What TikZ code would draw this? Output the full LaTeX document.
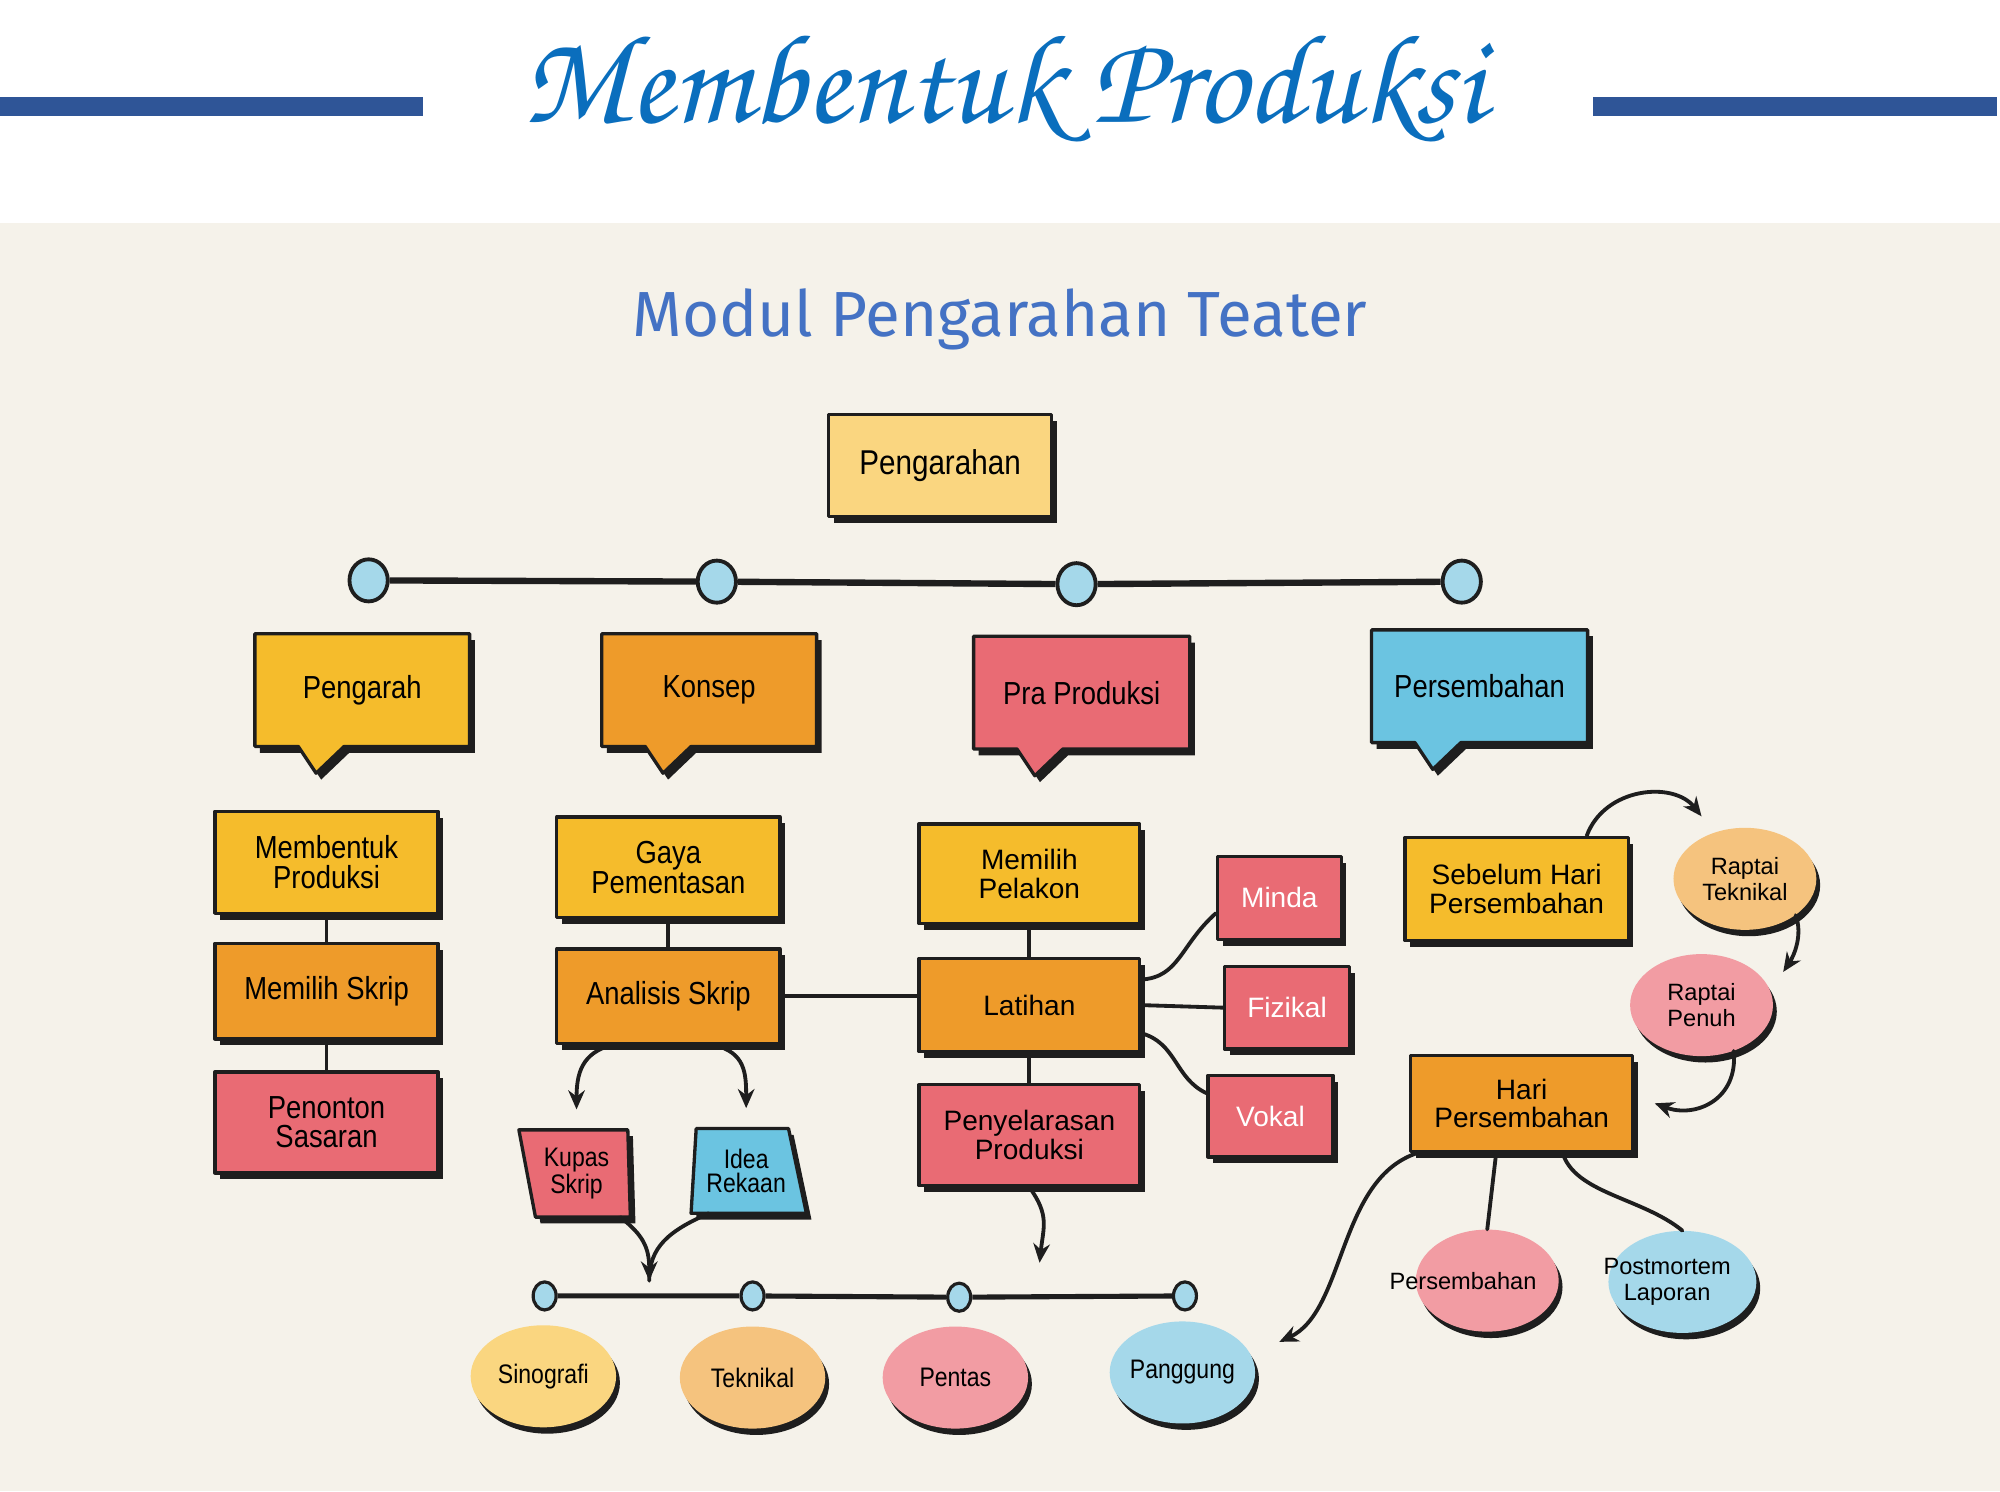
\documentclass[tikz,border=0pt]{standalone}
\usepackage{fontspec}
\setmainfont{Liberation Sans}
\newfontfamily\condfont[FakeStretch=0.86]{Liberation Sans}
\IfFontExistsTF{texgyrechorus-mediumitalic.otf}{\newfontfamily\titlefont{texgyrechorus-mediumitalic.otf}}{\newfontfamily\titlefont{Liberation Serif}[Style=Italic]}
\newfontfamily\subfont{Fira Sans}
\usetikzlibrary{shapes.geometric,shadows,arrows.meta}
\pgfdeclarelayer{background}
\pgfsetlayers{background,main}
\definecolor{paper}{HTML}{F5F2EA}
\definecolor{ink}{HTML}{1E1E1E}
\definecolor{barblue}{HTML}{2F5597}
\definecolor{titleblue}{HTML}{0A6EBD}
\definecolor{subblue}{HTML}{4472C4}
\definecolor{amber}{HTML}{F5BC2C}
\definecolor{tangerine}{HTML}{EE9B2A}
\definecolor{coral}{HTML}{E96B74}
\definecolor{azure}{HTML}{6BC4E1}
\definecolor{cream}{HTML}{FAD680}
\definecolor{peach}{HTML}{F5C37E}
\definecolor{rose}{HTML}{F29CA3}
\definecolor{sky}{HTML}{A5D8EA}
\tikzstyle{inkshadow}=[drop shadow={shadow xshift=4pt, shadow yshift=-5pt, fill=ink, opacity=1}]
\tikzstyle{card}=[rectangle, draw=ink, line width=2.6pt, line join=round, minimum width=175pt, minimum height=78pt, inner sep=2pt, align=center, inkshadow]
\tikzstyle{bubble}=[draw=ink, line width=2.6pt, line join=round, inkshadow]
\tikzstyle{blob}=[ellipse, minimum width=112pt, minimum height=80pt, inner sep=0pt, align=center, drop shadow={shadow xshift=3pt, shadow yshift=-5pt, fill=ink, opacity=1}]
\tikzstyle{narrow}=[font={\condfont\fontsize{25}{23}\selectfont}]
\tikzstyle{narrowsmall}=[align=center, font={\condfont\fontsize{21}{19}\selectfont}]
\tikzstyle{wide}=[font={\fontsize{22}{22.5}\selectfont}]
\tikzstyle{widesmall}=[font={\fontsize{18.5}{20}\selectfont}]

\begin{document}
\begin{tikzpicture}[x = 1pt, y = -1pt]
\tikzstyle{dot}=[ellipse, draw=ink, line width=3pt, fill=sky, minimum width=30pt, minimum height=33pt, inner sep=0pt]
\tikzstyle{pip}=[ellipse, draw=ink, line width=2.5pt, fill=sky, minimum width=18pt, minimum height=22pt, inner sep=0pt]
\tikzstyle{rail}=[draw=ink, line width=5pt]
\tikzstyle{link}=[draw=ink, line width=3pt, line cap=round]
\tikzstyle{flow}=[link, -{Stealth[length=15pt, width=13pt]}]
\useasboundingbox (0,0) rectangle (1568,1169);
\begin{pgfonlayer}{background}
\fill[white] (0,0) rectangle (1568,175);
\fill[paper] (0,175) rectangle (1568,1169);
\end{pgfonlayer}
\fill[barblue] (0,76) rectangle (332,91);
\fill[barblue] (1249,76) rectangle (1566,91);
\node[text=titleblue, font={\titlefont\fontsize{100}{100}\selectfont}] (title) at (787,70) {Membentuk Produksi};
\node[text=subblue, font={\subfont\fontsize{50}{50}\selectfont}] (subtitle) at (784,250) {Modul Pengarahan Teater};

\node[card, fill=cream, minimum height=80pt, font={\condfont\fontsize{27}{27}\selectfont}] (pengarahan) at (737,365) {Pengarahan};

\node[dot] (t1) at (289,455) {};
\node[dot] (t2) at (562,456) {};
\node[dot] (t3) at (844,458) {};
\node[dot] (t4) at (1146,456) {};
\draw[rail] (t1) -- (t2) -- (t3) -- (t4);

\node[narrow, minimum width=168pt, minimum height=88pt] (pengarah) at (284,541) {Pengarah};
\node[narrow, minimum width=168pt, minimum height=88pt] (konsep) at (556,541) {Konsep};
\node[narrow, minimum width=169pt, minimum height=88pt] (praproduksi) at (848,543) {Pra Produksi};
\node[narrow, minimum width=169pt, minimum height=88pt] (persembahan) at (1160,538) {Persembahan};
\begin{pgfonlayer}{background}
\filldraw[bubble, fill=amber] (pengarah.north west) -- (pengarah.north east) -- (pengarah.south east) -- ([xshift=70pt]pengarah.south west) -- ([xshift=48pt, yshift=-21pt]pengarah.south west) -- ([xshift=34pt]pengarah.south west) -- (pengarah.south west) -- cycle;
\filldraw[bubble, fill=tangerine] (konsep.north west) -- (konsep.north east) -- (konsep.south east) -- ([xshift=70pt]konsep.south west) -- ([xshift=48pt, yshift=-21pt]konsep.south west) -- ([xshift=34pt]konsep.south west) -- (konsep.south west) -- cycle;
\filldraw[bubble, fill=coral] (praproduksi.north west) -- (praproduksi.north east) -- (praproduksi.south east) -- ([xshift=70pt]praproduksi.south west) -- ([xshift=48pt, yshift=-21pt]praproduksi.south west) -- ([xshift=34pt]praproduksi.south west) -- (praproduksi.south west) -- cycle;
\filldraw[bubble, fill=azure] (persembahan.north west) -- (persembahan.north east) -- (persembahan.south east) -- ([xshift=70pt]persembahan.south west) -- ([xshift=48pt, yshift=-21pt]persembahan.south west) -- ([xshift=34pt]persembahan.south west) -- (persembahan.south west) -- cycle;
\end{pgfonlayer}

\node[card, narrow, fill=amber, minimum height=80pt] (membentuk) at (256,676) {Membentuk\\Produksi};
\node[card, narrow, fill=tangerine, minimum height=75pt] (memilihskrip) at (256,777) {Memilih Skrip};
\node[card, narrow, fill=coral, minimum height=79pt] (penonton) at (256,880) {Penonton\\Sasaran};
\node[card, narrow, fill=amber, minimum height=79pt] (gaya) at (524,680) {Gaya\\Pementasan};
\node[card, narrow, fill=tangerine, minimum height=74pt] (analisis) at (524,781) {Analisis Skrip};

\node[narrowsmall, minimum width=80pt, minimum height=68pt] (kupas) at (452,920) {Kupas\\Skrip};
\node[narrowsmall, minimum width=78pt, minimum height=66pt] (idea) at (585,918) {Idea\\Rekaan};
\begin{pgfonlayer}{background}
\filldraw[bubble, fill=coral] ([xshift=-5pt]kupas.north west) -- (kupas.north east) -- ([xshift=2pt]kupas.south east) -- ([xshift=8pt]kupas.south west) -- cycle;
\filldraw[bubble, fill=azure] (idea.north west) -- ([xshift=-6pt]idea.north east) -- ([xshift=8pt]idea.south east) -- ([xshift=-4pt]idea.south west) -- cycle;
\end{pgfonlayer}

\node[card, wide, fill=amber, minimum width=173pt, minimum height=78pt] (pelakon) at (807,685) {Memilih\\Pelakon};
\node[card, wide, fill=tangerine, minimum width=173pt, minimum height=73pt] (latihan) at (807,788) {Latihan};
\node[card, wide, fill=coral, minimum width=173pt, minimum height=79pt] (penyelarasan) at (807,890) {Penyelarasan\\Produksi};
\node[card, wide, fill=coral, text=white, minimum width=97pt, minimum height=65pt] (minda) at (1003,704) {Minda};
\node[card, wide, fill=coral, text=white, minimum width=98pt, minimum height=65pt] (fizikal) at (1009,790) {Fizikal};
\node[card, wide, fill=coral, text=white, minimum width=98pt, minimum height=64pt] (vokal) at (996,875) {Vokal};

\node[card, wide, fill=amber, minimum height=81pt] (sebelum) at (1189,697) {Sebelum Hari\\Persembahan};
\node[card, wide, fill=tangerine, minimum width=174pt, minimum height=75pt] (hari) at (1193,865) {Hari\\Persembahan};
\node[blob, widesmall, fill=peach] (raptaitek) at (1368,689) {\makebox[0pt]{Raptai}\\\makebox[0pt]{Teknikal}};
\node[blob, widesmall, fill=rose] (raptaipenuh) at (1334,788) {\makebox[0pt]{Raptai}\\\makebox[0pt]{Penuh}};
\node[blob, widesmall, fill=rose] (persembahanblob) at (1166,1004) {\makebox[0pt]{\kern-38pt Persembahan}};
\node[blob, widesmall, fill=sky, minimum width=116pt] (postmortem) at (1319,1005) {\makebox[0pt]{\kern-24pt Postmortem}\\\makebox[0pt]{\kern-24pt Laporan}};

\node[pip] (b1) at (427,1016) {};
\node[pip] (b2) at (590,1016) {};
\node[pip] (b3) at (752,1017) {};
\node[pip] (b4) at (929,1016) {};
\draw[rail, line width=4pt] (b1) -- (b2) -- (b3) -- (b4);
\node[blob, narrowsmall, fill=cream, minimum width=114pt] (sinografi) at (426,1079) {\makebox[0pt]{Sinografi}};
\node[blob, narrowsmall, fill=peach, minimum width=114pt] (teknikal) at (590,1080) {\makebox[0pt]{Teknikal}};
\node[blob, narrowsmall, fill=rose, minimum width=114pt] (pentas) at (749,1080) {\makebox[0pt]{Pentas}};
\node[blob, narrowsmall, fill=sky, minimum width=114pt] (panggung) at (927,1076) {\makebox[0pt]{Panggung}};

\coordinate (merge) at (509,1004);
\coordinate (stagein) at (815,990);
\coordinate (tekin) at (1334,640);
\coordinate (penuhin) at (1398,762);
\coordinate (panggungin) at (1003,1052);

\draw[link] (membentuk) -- (memilihskrip) -- (penonton);
\draw[link] (gaya) -- (analisis);
\draw[link] (pelakon) -- (latihan) -- (penyelarasan);
\draw[link] (analisis.east) -- (analisis.east -| latihan.west);
\draw[link] ([yshift=20pt]latihan.east) .. controls +(30,-2) and +(-28,25) .. ([yshift=-12pt]minda.west);
\draw[link] (latihan.east) -- (fizikal.west);
\draw[link] ([yshift=-22pt]latihan.east) .. controls +(28,8) and +(-25,-12) .. ([yshift=18pt]vokal.west);
\draw[flow] ([xshift=-44pt]analisis.south) .. controls +(-24,6) and +(0,-28) .. ([yshift=16pt]kupas.north);
\draw[flow] ([xshift=36pt]analisis.south) .. controls +(24,6) and +(0,-28) .. ([yshift=16pt]idea.north);
\draw[flow] ([xshift=-6pt]kupas.south east) .. controls +(18,14) and +(0,-26) .. (merge);
\draw[link] ([xshift=10pt]idea.south west) .. controls +(-32,14) and +(0,-26) .. (merge);
\draw[flow] (penyelarasan.south) .. controls +(16,22) and +(3,-28) .. (stagein);
\draw[flow] ([xshift=55pt]sebelum.north) .. controls +(14,-38) and +(-22,-28) .. (tekin);
\draw[flow] (raptaitek.south east) .. controls +(6,16) and +(8,-12) .. (penuhin);
\draw[flow] (raptaipenuh.-55) .. controls +(4,38) and +(32,12) .. ([xshift=16pt]hari.east);
\draw[flow] ([xshift=7pt]hari.south west) .. controls +(-63,20) and +(52,-24) .. (panggungin);
\draw[link] ([xshift=-20pt]hari.south) -- (persembahanblob.north);
\draw[link] ([xshift=32pt]hari.south) .. controls +(10,32) and +(-32,-26) .. (postmortem.north);
\end{tikzpicture}
\end{document}
